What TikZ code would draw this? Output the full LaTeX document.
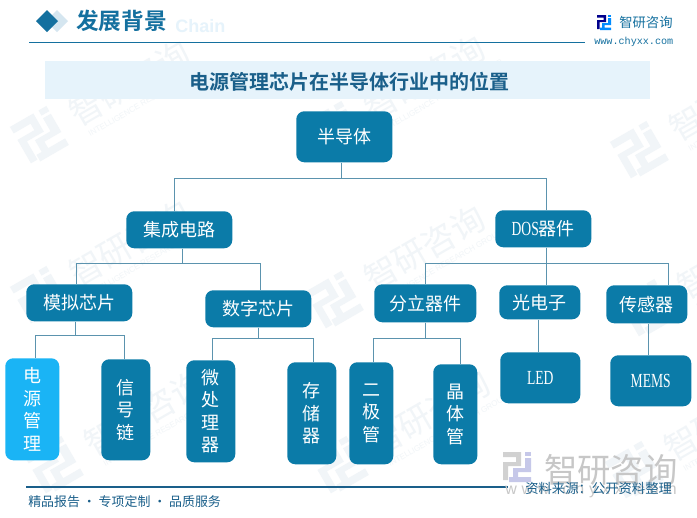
\documentclass[tikz,border=0pt]{standalone}
\usepackage{fontspec}
\setmainfont{Liberation Serif}
\newfontfamily\cjk{Noto Sans CJK SC}
\newfontfamily\cjkb{Noto Sans CJK SC Bold}
\newfontfamily\arial{Liberation Sans}
\newfontfamily\mono{Liberation Mono}
\newfontfamily\narrow[FakeStretch=0.68]{Liberation Serif}
\newfontfamily\stampfont[LetterSpace=30]{Liberation Sans}
\definecolor{boxblue}{HTML}{0B7BA8}
\definecolor{hotblue}{HTML}{1AB4F5}
\definecolor{linkblue}{HTML}{5B93AE}
\definecolor{headblue}{HTML}{14709F}
\definecolor{bandblue}{HTML}{E6F3FB}
\definecolor{inkblue}{HTML}{1A5F8A}
\definecolor{paleblue}{HTML}{D5E6F0}
\definecolor{markblue}{HTML}{F1F5F8}
\def\px{0.75pt}
\tikzset{
    chipbox/.style={fill=boxblue, rounded corners=6pt, text=white, font=\cjk\fontsize{13.5}{16.9}\selectfont, align=center, inner sep=0pt, anchor=north west},
    hotbox/.style={chipbox, fill=hotblue},
    link/.style={draw=linkblue, line width=0.8pt},
    logomark/.pic={
        \fill[pic actions, fill=\logoleft] (0,0) -- (9,0) -- (9,7) -- (2.5,7) -- (2.5,14) -- (0,14) -- (0,5) -- (6.5,5) -- (6.5,2.5) -- (0,2.5) -- cycle;
        \fill[pic actions, fill=\logoright] (11,0) rectangle (14,2);
        \fill[pic actions, fill=\logoright] (11,3) -- (14,3) -- (14,10) -- (7.5,10) -- (7.5,12.5) -- (14,12.5) -- (14,15) -- (3,15) -- (3,12.5) -- (5,12.5) -- (5,8) -- (11,8) -- cycle;
    },
    wmark/.pic={
        \def\logoleft{markblue}\def\logoright{markblue}
        \pic[scale=3, transform shape] at (-22,-22) {logomark};
        \node[text=markblue, font=\cjk\fontsize{25}{25}\selectfont, anchor=west, transform shape] at (32,0) {智研咨询};
        \node[text=markblue, font=\arial\fontsize{6}{6}\selectfont, anchor=west, transform shape] at (38,24) {INTELLIGENCE RESEARCH GROUP};
    },
}
\begin{document}
\begin{tikzpicture}[x=\px, y=-\px]
    \clip (0,0) rectangle (697,518);
    \fill[white] (0,0) rectangle (697,518);

    % Watermarks behind everything
    \foreach \wx/\wy in {40/135, 40/295, 55/465, 335/130, 335/300, 340/465, 640/150, 648/308, 635/470}
        \pic[rotate=30] at (\wx,\wy) {wmark};

    % Header
    \node[text=bandblue, font=\arial\bfseries\fontsize{13.5}{13.5}\selectfont, anchor=west, inner sep=0pt] (chainword) at (175,26) {Chain};
    \fill[paleblue] (57,10) -- (68,21) -- (57,32) -- (46,21) -- cycle;
    \fill[headblue] (47,10) -- (58,21) -- (47,32) -- (36,21) -- cycle;
    \node[text=headblue, font=\cjkb\fontsize{17}{17}\selectfont, anchor=west, inner sep=0pt] (headword) at (76,21) {发展背景};
    \draw[headblue, line width=0.9pt] (29,42.5) -- (585,42.5);

    % Logo top right
    \def\logoleft{blue!55!black}\def\logoright{blue!45!cyan}
    \pic at (597,15) {logomark};
    \node[text=headblue, font=\cjk\fontsize{10}{10}\selectfont, anchor=west, inner sep=0pt] (brandword) at (619,22) {智研咨询};
    \node[text=headblue, font=\mono\fontsize{7.6}{7.6}\selectfont, anchor=west, inner sep=0pt] (brandurl) at (594,41.5) {www.chyxx.com};

    % Title band
    \fill[bandblue] (45,61) rectangle (650,99);
    \node[text=inkblue, font=\cjkb\fontsize{15}{15}\selectfont, inner sep=0pt] (titleword) at (349,82) {电源管理芯片在半导体行业中的位置};

    % Boxes
    \node[chipbox, minimum width=96*\px, minimum height=51*\px] (semi) at (296,111) {半导体};
    \node[chipbox, minimum width=106*\px, minimum height=37*\px] (ic) at (126,211) {集成电路};
    \node[chipbox, minimum width=96*\px, minimum height=37*\px] (dos) at (495,210) {{\narrow\fontsize{15}{15}\selectfont DOS}器件};
    \node[chipbox, minimum width=106*\px, minimum height=37*\px] (analog) at (26,284) {模拟芯片};
    \node[chipbox, minimum width=106*\px, minimum height=37*\px] (digital) at (205,290) {数字芯片};
    \node[chipbox, minimum width=102*\px, minimum height=38*\px] (discrete) at (374,284) {分立器件};
    \node[chipbox, minimum width=81*\px, minimum height=34*\px] (photo) at (499,285) {光电子};
    \node[chipbox, minimum width=81*\px, minimum height=38*\px] (sensor) at (606,285) {传感器};
    \node[hotbox, minimum width=54*\px, minimum height=102*\px] (power) at (5,358) {电\\源\\管\\理};
    \node[chipbox, minimum width=49*\px, minimum height=101*\px] (signal) at (101,359) {信\\号\\链};
    \node[chipbox, minimum width=49*\px, minimum height=102*\px] (micro) at (186,360) {微\\处\\理\\器};
    \node[chipbox, minimum width=49*\px, minimum height=102*\px] (memory) at (287,362) {存\\储\\器};
    \node[chipbox, minimum width=44*\px, minimum height=102*\px] (diode) at (349,362) {二\\极\\管};
    \node[chipbox, minimum width=44*\px, minimum height=100*\px] (trans) at (433,364) {晶\\体\\管};
    \node[chipbox, minimum width=80*\px, minimum height=51*\px, font=\narrow\fontsize{15}{15}\selectfont] (led) at (500,352) {LED};
    \node[chipbox, minimum width=81*\px, minimum height=51*\px, font=\narrow\fontsize{15}{15}\selectfont] (mems) at (610,355) {MEMS};

    % Connectors
    \draw[link] ([xshift=-3*\px]semi.south) -- ++(0,16) -| ([xshift=-5*\px]ic.north);
    \draw[link] ([xshift=-3*\px]semi.south) -- ++(0,16) -| ([xshift=3*\px]dos.north);
    \draw[link] ([xshift=3*\px]ic.south) -- ++(0,15) -| ([xshift=-2.5*\px]analog.north);
    \draw[link] ([xshift=3*\px]ic.south) -- ++(0,15) -| ([xshift=2.5*\px]digital.north);
    \draw[link] ([xshift=-3.5*\px]analog.south) -- ++(0,14) -| ([xshift=3.5*\px]power.north);
    \draw[link] ([xshift=-3.5*\px]analog.south) -- ++(0,14) -| ([xshift=-1*\px]signal.north);
    \draw[link] (digital.south) -- ++(0,11) -| ([xshift=2*\px]micro.north);
    \draw[link] (digital.south) -- ++(0,11) -| ([xshift=1.5*\px]memory.north);
    \draw[link] ([xshift=3*\px]dos.south) -- ++(0,16) -| (discrete.north);
    \draw[link] ([xshift=3*\px]dos.south) -- ([xshift=6.5*\px]photo.north);
    \draw[link] ([xshift=3*\px]dos.south) -- ++(0,16) -| ([xshift=21.5*\px]sensor.north);
    \draw[link] (discrete.south) -- ++(0,16) -| ([xshift=2*\px]diode.north);
    \draw[link] (discrete.south) -- ++(0,16) -| ([xshift=5*\px]trans.north);
    \draw[link] ([xshift=-1*\px]photo.south) -- ([xshift=-1.5*\px]led.north);
    \draw[link] ([xshift=1.5*\px]sensor.south) -- ([xshift=-2.5*\px]mems.north);

    % Footer
    \draw[inkblue, line width=0.9pt] (26,487) -- (508,487);
    \def\logoleft{black!18}\def\logoright{cyan!25!blue!22}
    \pic[scale=2] at (503,452) {logomark};
    \node[text=black!22, font=\cjk\fontsize{25}{25}\selectfont, anchor=west, inner sep=0pt] (stampword) at (544,470) {智研咨询};
    \node[text=black!22, font=\stampfont\fontsize{12}{12}\selectfont, anchor=west, inner sep=0pt] (stampurl) at (505,490) {www.chyxx.com};
    \node[text=inkblue, font=\cjk\fontsize{9.7}{9.7}\selectfont, anchor=west, inner sep=0pt] (footleft) at (28,502) {精品报告 · 专项定制 · 品质服务};
    \node[text=inkblue, font=\cjk\fontsize{10}{10}\selectfont, anchor=west, inner sep=0pt] (footright) at (525,488) {资料来源：公开资料整理};
\end{tikzpicture}
\end{document}
